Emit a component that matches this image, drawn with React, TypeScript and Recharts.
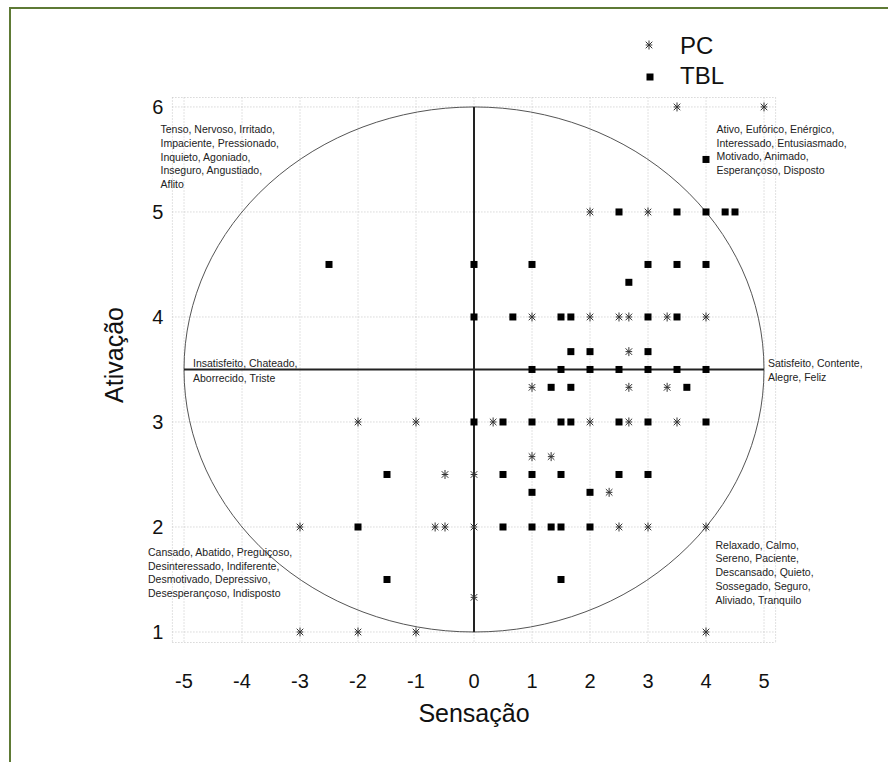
import React from 'react';
import { ScatterChart, Scatter, XAxis, YAxis, CartesianGrid, ReferenceLine, ReferenceArea } from 'recharts';

const xTicks = [-5, -4, -3, -2, -1, 0, 1, 2, 3, 4, 5];
const yTicks = [1, 2, 3, 4, 5, 6];

// [Sensação, Ativação]
const pcPoints: [number, number][] = [
  [3.5, 6], [5, 6],
  [2, 5], [3, 5],
  [1, 4], [2, 4], [2.5, 4], [2.67, 4], [3.33, 4], [4, 4],
  [2.67, 3.67],
  [1, 3.33], [2.67, 3.33], [3.33, 3.33],
  [-2, 3], [-1, 3], [0.33, 3], [2, 3], [2.67, 3], [3.5, 3],
  [1, 2.67], [1.33, 2.67],
  [-0.5, 2.5], [0, 2.5],
  [2.33, 2.33],
  [-3, 2], [-0.67, 2], [-0.5, 2], [0, 2], [2.5, 2], [3, 2], [4, 2],
  [0, 1.33],
  [-3, 1], [-2, 1], [-1, 1], [4, 1],
];

const tblPoints: [number, number][] = [
  [4, 5.5],
  [2.5, 5], [3.5, 5], [4, 5], [4.33, 5], [4.5, 5],
  [-2.5, 4.5], [0, 4.5], [1, 4.5], [3, 4.5], [3.5, 4.5], [4, 4.5],
  [2.67, 4.33],
  [0, 4], [0.67, 4], [1.5, 4], [1.67, 4], [3, 4], [3.5, 4],
  [1.67, 3.67], [2, 3.67], [3, 3.67],
  [1, 3.5], [1.5, 3.5], [2, 3.5], [2.5, 3.5], [3, 3.5], [3.5, 3.5], [4, 3.5],
  [1.33, 3.33], [1.67, 3.33], [3.67, 3.33],
  [0, 3], [0.5, 3], [1, 3], [1.5, 3], [1.67, 3], [2.5, 3], [3, 3], [4, 3],
  [-1.5, 2.5], [0.5, 2.5], [1, 2.5], [1.5, 2.5], [2.5, 2.5], [3, 2.5],
  [1, 2.33], [2, 2.33],
  [-2, 2], [0.5, 2], [1, 2], [1.33, 2], [1.5, 2], [2, 2],
  [-1.5, 1.5], [1.5, 1.5],
];

const topLeftText = ['Tenso, Nervoso, Irritado,', 'Impaciente, Pressionado,', 'Inquieto, Agoniado,', 'Inseguro, Angustiado,', 'Aflito'];
const topRightText = ['Ativo, Eufórico, Enérgico,', 'Interessado, Entusiasmado,', 'Motivado, Animado,', 'Esperançoso, Disposto'];
const midLeftText = ['Insatisfeito, Chateado,', 'Aborrecido, Triste'];
const midRightText = ['Satisfeito, Contente,', 'Alegre, Feliz'];
const bottomLeftText = ['Cansado, Abatido, Preguiçoso,', 'Desinteressado, Indiferente,', 'Desmotivado, Depressivo,', 'Desesperançoso, Indisposto'];
const bottomRightText = ['Relaxado, Calmo,', 'Sereno, Paciente,', 'Descansado, Quieto,', 'Sossegado, Seguro,', 'Aliviado, Tranquilo'];

const FONT = '"Liberation Sans", Arial, sans-serif';

const pcData = pcPoints.map(([x, y]) => ({ x, y }));
const tblData = tblPoints.map(([x, y]) => ({ x, y }));

function Star({ cx, cy }: any) {
  const r = 4.5;
  const d = 3.3;
  return (
    <g stroke="#333" strokeWidth={1}>
      <line x1={cx} y1={cy - r} x2={cx} y2={cy + r} />
      <line x1={cx - d} y1={cy - d} x2={cx + d} y2={cy + d} />
      <line x1={cx - d} y1={cy + d} x2={cx + d} y2={cy - d} />
      <line x1={cx - d} y1={cy} x2={cx + d} y2={cy} />
    </g>
  );
}

function Square({ cx, cy }: any) {
  return <rect x={cx - 3.5} y={cy - 3.5} width={7} height={7} fill="#000" />;
}

function Ellipse(props: any) {
  const { x, y, width, height } = props;
  return (
    <ellipse cx={x + width / 2} cy={y + height / 2} rx={width / 2} ry={height / 2} fill="none" stroke="#555" strokeWidth={1} />
  );
}

function Block({ lines, x, y, step }: { lines: string[]; x: number; y: number; step: number }) {
  return (
    <text x={x} y={y} fontSize={10.5} fill="#222" fontFamily={FONT}>
      {lines.map((l, i) => (
        <tspan key={i} x={x} y={y + i * step}>
          {l}
        </tspan>
      ))}
    </text>
  );
}

export default function App() {
  return (
    <div style={{ position: 'absolute', left: 0, top: 0, width: 888, height: 762, background: '#fff', fontFamily: FONT }}>
      <div
        style={{
          position: 'absolute',
          left: 9,
          top: 7,
          width: 879,
          height: 755,
          borderTop: '2.5px solid #5e7a35',
          borderLeft: '2.5px solid #5e7a35',
          boxSizing: 'border-box',
        }}
      />
      <div style={{ position: 'absolute', left: 0, top: 0 }}>
        <ScatterChart width={888} height={762} margin={{ top: 97.5, right: 112.4, bottom: 89.5, left: 112.4 }}>
          <CartesianGrid stroke="#c4c4c4" strokeDasharray="1 2" />
          <XAxis
            type="number"
            dataKey="x"
            domain={[-5.2, 5.2]}
            ticks={xTicks}
            allowDataOverflow
            height={30}
            axisLine={false}
            tickLine={false}
            tickSize={0}
            tickMargin={31.5}
            tick={{ fontSize: 20, fill: '#111', fontFamily: FONT }}
          />
          <YAxis
            type="number"
            dataKey="y"
            domain={[0.9, 6.09]}
            ticks={yTicks}
            allowDataOverflow
            width={60}
            axisLine={false}
            tickLine={false}
            tickSize={0}
            tickMargin={9}
            tick={{ fontSize: 20, fill: '#111', fontFamily: FONT }}
          />
          <ReferenceArea x1={-5} x2={5} y1={1} y2={6} shape={Ellipse} />
          <ReferenceLine segment={[{ x: -5, y: 3.5 }, { x: 5, y: 3.5 }]} stroke="#222" strokeWidth={2} />
          <ReferenceLine segment={[{ x: 0, y: 1 }, { x: 0, y: 6 }]} stroke="#222" strokeWidth={2} />
          <Scatter name="PC" data={pcData} shape={Star} isAnimationActive={false} />
          <Scatter name="TBL" data={tblData} shape={Square} isAnimationActive={false} />
        </ScatterChart>
      </div>
      <svg width={888} height={762} style={{ position: 'absolute', left: 0, top: 0, pointerEvents: 'none' }}>
        <Block lines={topLeftText} x={160.5} y={133} step={13.8} />
        <Block lines={topRightText} x={716.5} y={133} step={13.5} />
        <Block lines={midLeftText} x={193} y={366.5} step={15} />
        <Block lines={midRightText} x={768} y={367} step={14} />
        <Block lines={bottomLeftText} x={148} y={556} step={13.5} />
        <Block lines={bottomRightText} x={715.5} y={548.5} step={13.8} />

        <text x={474} y={722} textAnchor="middle" fontSize={25} fill="#111" fontFamily={FONT}>
          Sensação
        </text>
        <text x={123} y={355} textAnchor="middle" fontSize={25} fill="#111" fontFamily={FONT} transform="rotate(-90 123 355)">
          Ativação
        </text>

        <Star cx={649} cy={45} />
        <text x={680} y={54} fontSize={24} fill="#111" fontFamily={FONT}>
          PC
        </text>
        <Square cx={650} cy={77} />
        <text x={680} y={84} fontSize={24} fill="#111" fontFamily={FONT}>
          TBL
        </text>
      </svg>
    </div>
  );
}
